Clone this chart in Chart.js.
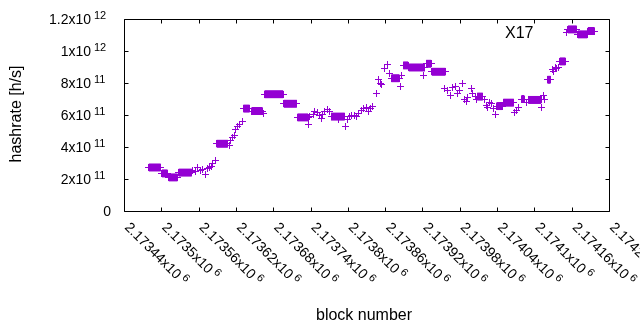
<!DOCTYPE html>
<html><head><meta charset="utf-8">
<script src="https://cdn.jsdelivr.net/npm/chart.js@4"></script>
<style>html,body{margin:0;padding:0;background:#fff}#wrap{width:640px;height:330px}</style>
</head><body><div id="wrap"><canvas id="c" width="640" height="330"></canvas></div>
<script>
const seriesName = 'X17';
const xTitle = 'block number';
const yTitle = 'hashrate [h/s]';
const xTickValues = [2173440, 2173500, 2173560, 2173620, 2173680, 2173740, 2173800, 2173860, 2173920, 2173980, 2174040, 2174100, 2174160, 2174220];
const xTickLabels = ['2.17344', '2.1735', '2.17356', '2.17362', '2.17368', '2.17374', '2.1738', '2.17386', '2.17392', '2.17398', '2.17404', '2.1741', '2.17416', '2.17422'];
const xTickExponent = '6';
const yTickValues = [0, 2e11, 4e11, 6e11, 8e11, 1e12, 1.2e12];
const yTickLabels = ['0', '2x10', '4x10', '6x10', '8x10', '1x10', '1.2x10'];
const yTickExponents = ['', '11', '11', '11', '11', '12', '12'];

// runs of consecutive blocks at one hashrate: first block, last block, hashrate
const runStart = [2173480, 2173501, 2173512, 2173528, 2173589, 2173632, 2173645, 2173666, 2173697, 2173719, 2173773, 2173870, 2173889, 2173898, 2173926, 2173935, 2174008, 2174039, 2174050, 2174079, 2174090, 2174121, 2174141, 2174154, 2174170, 2174186];
const runEnd   = [2173499, 2173510, 2173526, 2173549, 2173607, 2173642, 2173663, 2173696, 2173718, 2173736, 2173795, 2173883, 2173897, 2173924, 2173934, 2173957, 2174017, 2174049, 2174067, 2174084, 2174111, 2174126, 2174150, 2174168, 2174185, 2174197];
const runRate  = [2.72e11, 2.35e11, 2.10e11, 2.40e11, 4.20e11, 6.40e11, 6.25e11, 7.30e11, 6.70e11, 5.85e11, 5.90e11, 8.30e11, 9.10e11, 8.97e11, 9.20e11, 8.70e11, 7.15e11, 6.56e11, 6.77e11, 7.00e11, 6.94e11, 8.20e11, 9.35e11, 1.135e12, 1.104e12, 1.125e12];

// single blocks
const pointBlock = [2173550, 2173555, 2173559, 2173563, 2173567, 2173571, 2173574, 2173577, 2173580, 2173583, 2173587,
  2173610, 2173612, 2173615, 2173618, 2173620, 2173623, 2173626, 2173630, 2173664,
  2173737, 2173739, 2173744, 2173747, 2173751, 2173755, 2173757, 2173760, 2173763, 2173768, 2173771, 2173785,
  2173796, 2173800, 2173803, 2173806, 2173810, 2173814, 2173817, 2173822, 2173825, 2173830, 2173834, 2173837, 2173840,
  2173846, 2173850, 2173852, 2173854, 2173859, 2173863, 2173867, 2173884, 2173886, 2173922,
  2173956, 2173961, 2173965, 2173969, 2173973, 2173976, 2173979, 2173984, 2173988, 2173991, 2173993, 2173999, 2174001, 2174005, 2174007,
  2174020, 2174023, 2174025, 2174028, 2174031, 2174035, 2174038, 2174068, 2174071, 2174075, 2174087,
  2174111, 2174114, 2174117, 2174129, 2174131, 2174134, 2174136, 2174138, 2174152];
const pointRate = [2.56e11, 2.50e11, 2.70e11, 2.56e11, 2.62e11, 2.30e11, 2.66e11, 2.75e11, 2.80e11, 3.00e11, 3.15e11,
  4.10e11, 4.40e11, 4.60e11, 4.75e11, 5.10e11, 5.30e11, 5.40e11, 5.60e11, 6.10e11,
  5.42e11, 5.90e11, 6.05e11, 6.20e11, 6.15e11, 6.00e11, 5.80e11, 6.05e11, 6.20e11, 6.35e11, 6.25e11, 5.70e11,
  5.30e11, 5.70e11, 5.90e11, 6.00e11, 5.95e11, 5.90e11, 6.12e11, 6.30e11, 6.40e11, 6.50e11, 6.20e11, 6.40e11, 6.56e11,
  7.35e11, 8.20e11, 8.00e11, 7.90e11, 8.90e11, 9.15e11, 8.60e11, 7.77e11, 8.50e11, 8.50e11,
  7.67e11, 7.56e11, 7.20e11, 7.70e11, 7.80e11, 7.35e11, 7.56e11, 8.00e11, 7.00e11, 6.85e11, 7.10e11, 7.67e11, 7.35e11, 7.15e11, 7.00e11,
  7.00e11, 6.60e11, 6.50e11, 6.80e11, 6.73e11, 6.40e11, 6.05e11, 6.14e11, 6.30e11, 6.50e11, 6.77e11,
  6.50e11, 7.20e11, 7.00e11, 8.85e11, 8.75e11, 8.96e11, 8.90e11, 9.00e11, 1.115e12];

const COLOR = '#9400d3';
const FONT = '"Liberation Sans", Arial, sans-serif';

// crisp gnuplot-like "+" marker
const cross = document.createElement('canvas');
cross.width = 7; cross.height = 7;
(function () {
  const c = cross.getContext('2d');
  c.fillStyle = COLOR;
  c.fillRect(0, 3, 7, 1);
  c.fillRect(3, 0, 1, 7);
})();

const datasets = runStart.map((s, i) => ({
  data: [{x: s, y: runRate[i]}, {x: runEnd[i], y: runRate[i]}],
  showLine: true, borderColor: COLOR, borderWidth: 8, borderCapStyle: 'butt',
  pointStyle: cross, pointRadius: 3.5
}));
datasets.push({
  label: seriesName,
  data: pointBlock.map((b, i) => ({x: b, y: pointRate[i]})),
  showLine: false, borderColor: COLOR, backgroundColor: COLOR,
  pointStyle: cross, pointRadius: 3.5
});

const gnuplotLook = {
  id: 'gnuplotLook',
  beforeDatasetsDraw(chart) {
    const {ctx, chartArea: a, scales: {x, y}} = chart;
    ctx.imageSmoothingEnabled = false;
    ctx.save();
    ctx.strokeStyle = '#000'; ctx.lineWidth = 1;
    const L = Math.round(a.left) + 0.5, R = Math.round(a.right) + 0.5, T = Math.round(a.top) + 0.5, B = Math.round(a.bottom) + 0.5;
    ctx.beginPath();
    ctx.moveTo(L, T); ctx.lineTo(R, T); ctx.lineTo(R, B); ctx.lineTo(L, B); ctx.closePath();
    const tl = 4;
    xTickValues.forEach(v => {
      const px = Math.round(x.getPixelForValue(v)) + 0.5;
      ctx.moveTo(px, B); ctx.lineTo(px, B - tl);
      ctx.moveTo(px, T); ctx.lineTo(px, T + tl);
    });
    yTickValues.forEach(v => {
      const py = Math.round(y.getPixelForValue(v)) + 0.5;
      ctx.moveTo(L, py); ctx.lineTo(L + tl, py);
      ctx.moveTo(R, py); ctx.lineTo(R - tl, py);
    });
    ctx.stroke();
    ctx.restore();
  },
  afterDraw(chart) {
    const {ctx, chartArea: a, scales: {x, y}} = chart;
    ctx.save();
    ctx.fillStyle = '#000';
    yTickValues.forEach((v, i) => {
      const py = y.getPixelForValue(v);
      ctx.textBaseline = 'alphabetic';
      if (yTickExponents[i]) {
        ctx.font = '14px ' + FONT; ctx.textAlign = 'right';
        ctx.fillText(yTickLabels[i], a.left - 33, py + 5);
        ctx.font = '11px ' + FONT; ctx.textAlign = 'left';
        ctx.fillText(yTickExponents[i], a.left - 30, py);
      } else {
        ctx.font = '14px ' + FONT; ctx.textAlign = 'right';
        ctx.fillText(yTickLabels[i], a.left - 13, py + 5);
      }
    });
    xTickValues.forEach((v, i) => {
      const px = x.getPixelForValue(v);
      ctx.save();
      ctx.setTransform(Math.SQRT1_2, Math.SQRT1_2, -Math.SQRT1_2, Math.SQRT1_2, px, a.bottom + 17);
      ctx.font = '14px ' + FONT; ctx.textAlign = 'left'; ctx.textBaseline = 'alphabetic';
      const base = xTickLabels[i] + 'x10';
      ctx.fillText(base, 0, 0);
      const w = ctx.measureText(base).width;
      ctx.font = '11px ' + FONT;
      ctx.fillText(xTickExponent, w + 3, -5);
      ctx.restore();
    });
    ctx.font = '16px ' + FONT; ctx.textAlign = 'center'; ctx.textBaseline = 'middle';
    ctx.fillText(xTitle, 364, 316);
    ctx.save();
    ctx.translate(17, 114); ctx.rotate(-Math.PI / 2);
    ctx.fillText(yTitle, 0, 0);
    ctx.restore();
    ctx.textAlign = 'right'; ctx.textBaseline = 'alphabetic';
    ctx.fillText(seriesName, 533.5, 37.5);
    ctx.restore();
  }
};

new Chart(document.getElementById('c'), {
  type: 'scatter',
  data: {datasets},
  options: {
    responsive: false, animation: false, devicePixelRatio: 1, events: [],
    layout: {padding: {left: 124, right: 31, top: 19, bottom: 119}},
    plugins: {legend: {display: false}, tooltip: {enabled: false}},
    scales: {
      x: {type: 'linear', display: false, min: 2173440, max: 2174220},
      y: {type: 'linear', display: false, min: 0, max: 1.2e12}
    }
  },
  plugins: [gnuplotLook]
});
</script></body></html>
